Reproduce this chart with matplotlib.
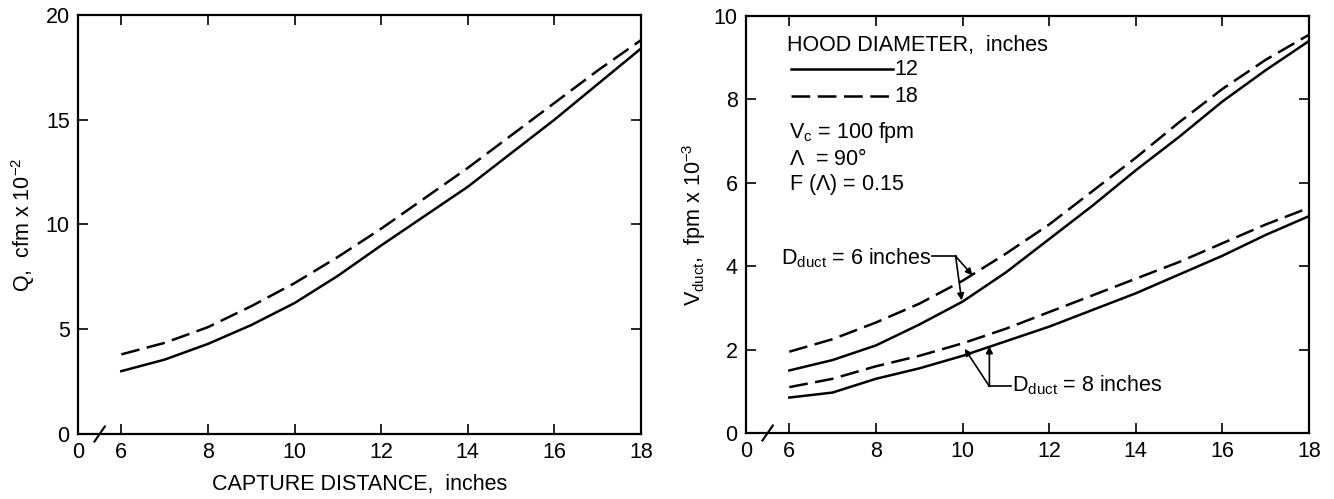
import numpy as np
import matplotlib
matplotlib.use("Agg")
from matplotlib import pyplot as plt
from matplotlib.transforms import blended_transform_factory

plt.rcParams["font.family"] = ["Liberation Sans Narrow", "Liberation Sans", "DejaVu Sans"]
plt.rcParams["mathtext.default"] = "regular"
plt.rcParams["mathtext.fontset"] = "custom"
plt.rcParams["mathtext.rm"] = "Liberation Sans"

# capture distance, inches
distance = [6, 7, 8, 9, 10, 11, 12, 13, 14, 15, 16, 17, 18]

# left panel: Q, cfm x 10^-2
q_hood12 = [3.0, 3.55, 4.3, 5.2, 6.25, 7.55, 9.0, 10.4, 11.8, 13.4, 15.0, 16.7, 18.4]
q_hood18 = [3.8, 4.35, 5.1, 6.1, 7.2, 8.45, 9.8, 11.25, 12.7, 14.25, 15.8, 17.35, 18.8]

# right panel: V_duct, fpm x 10^-3
v_d6_hood12 = [1.5, 1.75, 2.1, 2.6, 3.15, 3.85, 4.65, 5.45, 6.3, 7.1, 7.95, 8.7, 9.4]
v_d6_hood18 = [1.95, 2.25, 2.65, 3.1, 3.65, 4.3, 5.0, 5.8, 6.6, 7.45, 8.25, 8.95, 9.55]
v_d8_hood12 = [0.85, 0.97, 1.3, 1.55, 1.85, 2.2, 2.55, 2.95, 3.35, 3.8, 4.25, 4.75, 5.2]
v_d8_hood18 = [1.1, 1.3, 1.6, 1.85, 2.15, 2.5, 2.9, 3.3, 3.7, 4.1, 4.55, 5.0, 5.4]

x_ticks = [5, 6, 8, 10, 12, 14, 16, 18]
x_ticklabels = ["0", "6", "8", "10", "12", "14", "16", "18"]

FS = 15.5
DASH = (7.5, 3)


def style_axes(ax, ymax, ystep):
    ax.set_xlim(5, 18)
    ax.set_ylim(0, ymax)
    ax.set_xticks(x_ticks)
    ax.set_xticklabels(x_ticklabels)
    ax.set_yticks(np.arange(0, ymax + 0.1, ystep))
    ax.tick_params(direction="in", top=True, right=True, labelsize=FS,
                   length=7, width=1.2, pad=6)
    # no tick mark at the broken origin
    t = ax.xaxis.get_major_ticks()[0]
    t.tick1line.set_visible(False)
    t.tick2line.set_visible(False)
    for s in ax.spines.values():
        s.set_linewidth(1.6)
    # axis break mark
    tr = blended_transform_factory(ax.transData, ax.transAxes)
    ax.plot([5.38, 5.62], [-0.018, 0.018], color="black", lw=1.5,
            transform=tr, clip_on=False)


fig = plt.figure(figsize=(13.34, 4.99), dpi=100)
ax0 = fig.add_axes([78 / 1334, 65 / 499, 563 / 1334, 419 / 499])
ax1 = fig.add_axes([746 / 1334, 66 / 499, 563 / 1334, 417 / 499])

# left panel
ax0.plot(distance, q_hood12, color="black", lw=1.8)
ax0.plot(distance, q_hood18, color="black", lw=1.8, dashes=DASH)
style_axes(ax0, 20, 5)
ax0.set_ylabel(r"Q,  cfm x 10$^{-2}$", fontsize=FS, labelpad=6)
ax0.set_xlabel("CAPTURE DISTANCE,  inches", fontsize=FS, labelpad=8)

# right panel
ax1.plot(distance, v_d6_hood12, color="black", lw=1.8)
ax1.plot(distance, v_d6_hood18, color="black", lw=1.8, dashes=DASH)
ax1.plot(distance, v_d8_hood12, color="black", lw=1.8)
ax1.plot(distance, v_d8_hood18, color="black", lw=1.8, dashes=DASH)
style_axes(ax1, 10, 2)
ax1.set_ylabel(r"V$_{duct}$,  fpm x 10$^{-3}$", fontsize=FS, labelpad=4)

# legend-like block
ax1.text(5.95, 9.3, "HOOD DIAMETER,  inches", fontsize=FS, va="center")
ax1.plot([6.05, 8.4], [8.72, 8.72], color="black", lw=1.8)
ax1.text(8.42, 8.72, "12", fontsize=FS, va="center")
ax1.plot([6.05, 8.4], [8.07, 8.07], color="black", lw=1.8, dashes=DASH)
ax1.text(8.42, 8.07, "18", fontsize=FS, va="center")
ax1.text(6.0, 7.2, r"V$_c$ = 100 fpm", fontsize=FS, va="center")
ax1.text(6.0, 6.55, r"$\Lambda$  = 90$\degree$", fontsize=FS, va="center")
ax1.text(6.0, 5.95, r"F ($\Lambda$) = 0.15", fontsize=FS, va="center")

# duct annotations
ax1.text(5.8, 4.2, r"D$_{duct}$ = 6 inches", fontsize=FS, va="center")
ax1.plot([9.3, 9.84], [4.24, 4.24], color="black", lw=1.2)
for tip in [(10.23, 3.78), (9.98, 3.18)]:
    ax1.annotate("", xy=tip, xytext=(9.84, 4.24),
                 arrowprops=dict(arrowstyle="-|>", color="black", lw=1.2,
                                 mutation_scale=10, shrinkA=0, shrinkB=0))

ax1.text(11.15, 1.15, r"D$_{duct}$ = 8 inches", fontsize=FS, va="center")
ax1.plot([10.62, 11.12], [1.12, 1.12], color="black", lw=1.2)
for tip in [(10.05, 2.02), (10.62, 2.08)]:
    ax1.annotate("", xy=tip, xytext=(10.62, 1.12),
                 arrowprops=dict(arrowstyle="-|>", color="black", lw=1.2,
                                 mutation_scale=10, shrinkA=0, shrinkB=0))

fig.savefig("out.png", dpi=100)
